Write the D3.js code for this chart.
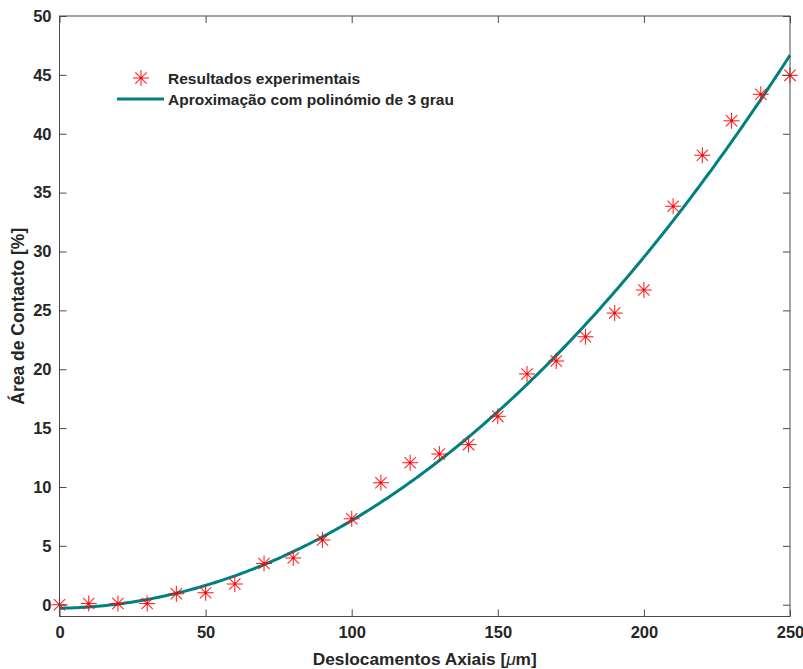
<!DOCTYPE html>
<html>
<head>
<meta charset="utf-8">
<script src="https://cdn.jsdelivr.net/npm/d3@7"></script>
<style>
  html, body { margin: 0; padding: 0; background: #fff; }
  svg { display: block; }
  text { font-family: "Liberation Sans", Arial, sans-serif; font-weight: bold; fill: #262626; }
</style>
</head>
<body>
<svg id="chart" width="803" height="669"></svg>
<script>
// Axial displacement [µm] and measured contact area [%]
const displacements = [0, 10, 20, 30, 40, 50, 60, 70, 80, 90, 100, 110, 120, 130, 140, 150, 160, 170, 180, 190, 200, 210, 220, 230, 240, 250];
const contactArea = [0, 0.1, 0.1, 0.1, 0.93, 1.02, 1.76, 3.5, 3.97, 5.5, 7.3, 10.36, 12.06, 12.8, 13.6, 16.0, 19.6, 20.7, 22.76, 24.77, 26.73, 33.84, 38.17, 41.1, 43.35, 44.96];
const xTicks = [0, 50, 100, 150, 200, 250];
const yTicks = [0, 5, 10, 15, 20, 25, 30, 35, 40, 45, 50];
const legendLabels = ["Resultados experimentais", "Aproximação com polinómio de 3 grau"];

// Least-squares cubic fit of the measurements
function polyfit(xs, ys, deg) {
  const n = deg + 1;
  const A = Array.from({length: n}, () => new Array(n + 1).fill(0));
  xs.forEach((x, k) => {
    for (let i = 0; i < n; i++) {
      for (let j = 0; j < n; j++) A[i][j] += Math.pow(x, i + j);
      A[i][n] += ys[k] * Math.pow(x, i);
    }
  });
  for (let c = 0; c < n; c++) {
    let p = c;
    for (let r = c + 1; r < n; r++) if (Math.abs(A[r][c]) > Math.abs(A[p][c])) p = r;
    [A[c], A[p]] = [A[p], A[c]];
    for (let r = 0; r < n; r++) {
      if (r === c) continue;
      const f = A[r][c] / A[c][c];
      for (let j = c; j <= n; j++) A[r][j] -= f * A[c][j];
    }
  }
  return A.map((row, i) => row[n] / row[i]);
}
const coef = polyfit(displacements, contactArea, 3);
const fitY = x => coef.reduce((s, c, i) => s + c * Math.pow(x, i), 0);
const fitX = d3.range(0, 250.5, 1);

const margin = {left: 59.5, right: 13, top: 16, bottom: 52.5};
const W = 803, H = 669;
const x = d3.scaleLinear().domain([0, 250]).range([margin.left, W - margin.right]);
const y = d3.scaleLinear().domain([-1, 50]).range([H - margin.bottom, margin.top]);

const svg = d3.select("#chart");
const axisColor = "#4a4a4a";
const tickLen = 7;

// Fitted curve
svg.append("path")
  .datum(fitX)
  .attr("fill", "none")
  .attr("stroke", "#008080")
  .attr("stroke-width", 3)
  .attr("d", d3.line().x(d => x(d)).y(d => y(fitY(d))));

// Asterisk markers
function star(g, cx, cy, r) {
  const d = r * Math.SQRT1_2;
  const segs = [[-r, 0, r, 0], [0, -r, 0, r], [-d, -d, d, d], [-d, d, d, -d]];
  segs.forEach(s => g.append("line")
    .attr("x1", cx + s[0]).attr("y1", cy + s[1]).attr("x2", cx + s[2]).attr("y2", cy + s[3])
    .attr("stroke", "#ff0000").attr("stroke-width", 1.1).attr("opacity", 0.85));
  g.append("circle").attr("cx", cx).attr("cy", cy).attr("r", 1.3).attr("fill", "#ff0000");
}
const pts = svg.append("g");
displacements.forEach((dx, i) => star(pts, x(dx), y(contactArea[i]), 8));

// Axes box with inward ticks on all sides
const box = svg.append("g").attr("stroke", axisColor).attr("stroke-width", 1).attr("fill", "none");
box.append("rect")
  .attr("x", x(0)).attr("y", y(50))
  .attr("width", x(250) - x(0)).attr("height", y(-1) - y(50));

const xAxisB = d3.axisBottom(x).tickValues(xTicks).tickSizeInner(-tickLen).tickSizeOuter(0).tickPadding(10);
const xAxisT = d3.axisTop(x).tickValues(xTicks).tickSizeInner(-tickLen).tickSizeOuter(0).tickFormat("");
const yAxisL = d3.axisLeft(y).tickValues(yTicks).tickSizeInner(-tickLen).tickSizeOuter(0).tickPadding(8);
const yAxisR = d3.axisRight(y).tickValues(yTicks).tickSizeInner(-tickLen).tickSizeOuter(0).tickFormat("");

function styleAxis(g) {
  g.select(".domain").remove();
  g.selectAll(".tick line").attr("stroke", axisColor);
  g.selectAll(".tick text")
    .attr("font-family", "Liberation Sans, Arial, sans-serif")
    .attr("font-weight", "bold").attr("font-size", 16.5).attr("fill", "#262626");
}
svg.append("g").attr("transform", `translate(0,${y(-1)})`).call(xAxisB).call(styleAxis);
svg.append("g").attr("transform", `translate(0,${y(50)})`).call(xAxisT).call(styleAxis);
svg.append("g").attr("transform", `translate(${x(0)},0)`).call(yAxisL).call(styleAxis);
svg.append("g").attr("transform", `translate(${x(250)},0)`).call(yAxisR).call(styleAxis);

// Axis titles
const xt = svg.append("text")
  .attr("x", (x(0) + x(250)) / 2).attr("y", 665)
  .attr("text-anchor", "middle").attr("font-size", 17.3);
xt.append("tspan").text("Deslocamentos Axiais [");
xt.append("tspan").attr("font-style", "italic").attr("font-weight", "normal").text("\u03bc");
xt.append("tspan").text("m]");

svg.append("text")
  .attr("transform", `translate(24,${(y(-1) + y(50)) / 2}) rotate(-90)`)
  .attr("text-anchor", "middle").attr("font-size", 17.5)
  .text("Área de Contacto [%]");

// Legend
const lg = svg.append("g");
star(lg, 141, 78, 8);
lg.append("text").attr("x", 168).attr("y", 84).attr("font-size", 15.5).text(legendLabels[0]);
lg.append("line").attr("x1", 117).attr("x2", 164).attr("y1", 99).attr("y2", 99)
  .attr("stroke", "#008080").attr("stroke-width", 3);
lg.append("text").attr("x", 168).attr("y", 104.5).attr("font-size", 15.5).text(legendLabels[1]);
</script>
</body>
</html>
